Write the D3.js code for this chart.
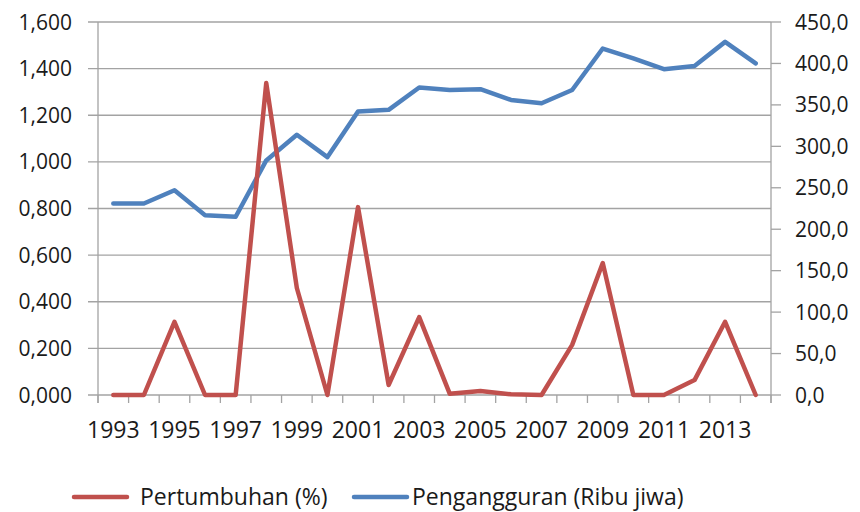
<!DOCTYPE html>
<html>
<head>
<meta charset="utf-8">
<script src="https://cdn.jsdelivr.net/npm/d3@7"></script>
<style>
  body { margin: 0; background: #fff; }
  text { font-family: "Open Sans", sans-serif; fill: #1a1a1a; }
</style>
</head>
<body>
<script>
const WIDTH = 860, HEIGHT = 512
const MARGINS = { top: 22, right: 89, bottom: 117, left: 98 }

// data
const years = d3.range(1993, 2015)
const tickYears = [1993, 1995, 1997, 1999, 2001, 2003, 2005, 2007, 2009, 2011, 2013]
const pertumbuhan = [0, 0, 0.314, 0, 0, 1.338, 0.459, 0, 0.806, 0.043, 0.334, 0.005,
                     0.017, 0.003, 0, 0.215, 0.566, 0, 0, 0.064, 0.314, 0]
const pengangguran = [231, 231, 247, 217, 215, 283, 314, 287, 342, 344, 371, 368,
                      369, 356, 352, 368, 418, 406, 393, 397, 426, 400]
const leftTicks = [0, 0.2, 0.4, 0.6, 0.8, 1.0, 1.2, 1.4, 1.6]
const rightTicks = [0, 50, 100, 150, 200, 250, 300, 350, 400, 450]

const RED = '#c0504d', BLUE = '#4f81bd', GRID = '#a3a3a3'

let width = WIDTH - MARGINS.left - MARGINS.right
let height = HEIGHT - MARGINS.top - MARGINS.bottom

let x = d3.scaleBand().domain(years).range([0, width]).padding(0)
let yL = d3.scaleLinear().domain([0, 1.6]).range([height, 0])
let yR = d3.scaleLinear().domain([0, 450]).range([height, 0])

let svg = d3.select('body').append('svg')
    .attr('width', WIDTH)
    .attr('height', HEIGHT)
  .append('g')
    .attr('transform', 'translate(' + [MARGINS.left, MARGINS.top] + ')')

// gridlines + left labels
let fmtL = (v) => d3.format('.3f')(v).replace('.', ',')
let fmtR = (v) => d3.format('.1f')(v).replace('.', ',')

svg.append('g').selectAll('line')
    .data(leftTicks)
  .enter().append('line')
    .attr('x1', -10).attr('x2', width)
    .attr('y1', (d) => yL(d)).attr('y2', (d) => yL(d))
    .attr('stroke', GRID).attr('stroke-width', 1.3)

svg.append('g').selectAll('text')
    .data(leftTicks)
  .enter().append('text')
    .attr('x', -26).attr('y', (d) => yL(d))
    .attr('dy', '.36em')
    .attr('text-anchor', 'end')
    .style('font-size', '21px')
    .text(fmtL)

// axis lines
svg.append('line')
  .attr('x1', 0).attr('x2', 0).attr('y1', 0).attr('y2', height + 8)
  .attr('stroke', GRID).attr('stroke-width', 1.3)
svg.append('line')
  .attr('x1', width).attr('x2', width).attr('y1', 0).attr('y2', height + 8)
  .attr('stroke', GRID).attr('stroke-width', 1.3)

// right axis ticks + labels
svg.append('g').selectAll('line')
    .data(rightTicks)
  .enter().append('line')
    .attr('x1', width).attr('x2', width + 10)
    .attr('y1', (d) => yR(d)).attr('y2', (d) => yR(d))
    .attr('stroke', GRID).attr('stroke-width', 1.3)

svg.append('g').selectAll('text')
    .data(rightTicks)
  .enter().append('text')
    .attr('x', width + 24).attr('y', (d) => yR(d))
    .attr('dy', '.36em')
    .style('font-size', '21px')
    .text(fmtR)

// x ticks between categories
svg.append('g').selectAll('line')
    .data(years.concat([null]))
  .enter().append('line')
    .attr('x1', (d, i) => i * x.bandwidth()).attr('x2', (d, i) => i * x.bandwidth())
    .attr('y1', height).attr('y2', height + 8)
    .attr('stroke', GRID).attr('stroke-width', 1.3)

svg.append('g').selectAll('text')
    .data(tickYears)
  .enter().append('text')
    .attr('x', (d) => x(d) + x.bandwidth() / 2)
    .attr('y', height + 43)
    .attr('text-anchor', 'middle')
    .style('font-size', '23px')
    .text((d) => d)

// lines
let cx = (d, i) => x(years[i]) + x.bandwidth() / 2

svg.append('path')
  .attr('d', d3.line().x(cx).y((d) => yR(d))(pengangguran))
  .attr('fill', 'none').attr('stroke', BLUE)
  .attr('stroke-width', 4.5).attr('stroke-linejoin', 'round').attr('stroke-linecap', 'round')

svg.append('path')
  .attr('d', d3.line().x(cx).y((d) => yL(d))(pertumbuhan))
  .attr('fill', 'none').attr('stroke', RED)
  .attr('stroke-width', 4.5).attr('stroke-linejoin', 'round').attr('stroke-linecap', 'round')

// legend
let legend = d3.select('svg').append('g')
  .attr('transform', 'translate(0,497)')

let items = [
  { name: 'Pertumbuhan (%)', color: RED, x: 74, gap: 66 },
  { name: 'Pengangguran (Ribu jiwa)', color: BLUE, x: 354, gap: 58 }
]

let item = legend.selectAll('g')
    .data(items)
  .enter().append('g')
    .attr('transform', (d) => 'translate(' + d.x + ',0)')

item.append('line')
  .attr('x1', 0).attr('x2', 53)
  .attr('stroke', (d) => d.color).attr('stroke-width', 4.5).attr('stroke-linecap', 'round')

item.append('text')
  .attr('x', (d) => d.gap).attr('dy', '.34em')
  .style('font-size', '23px')
  .text((d) => d.name)
</script>
</body>
</html>
